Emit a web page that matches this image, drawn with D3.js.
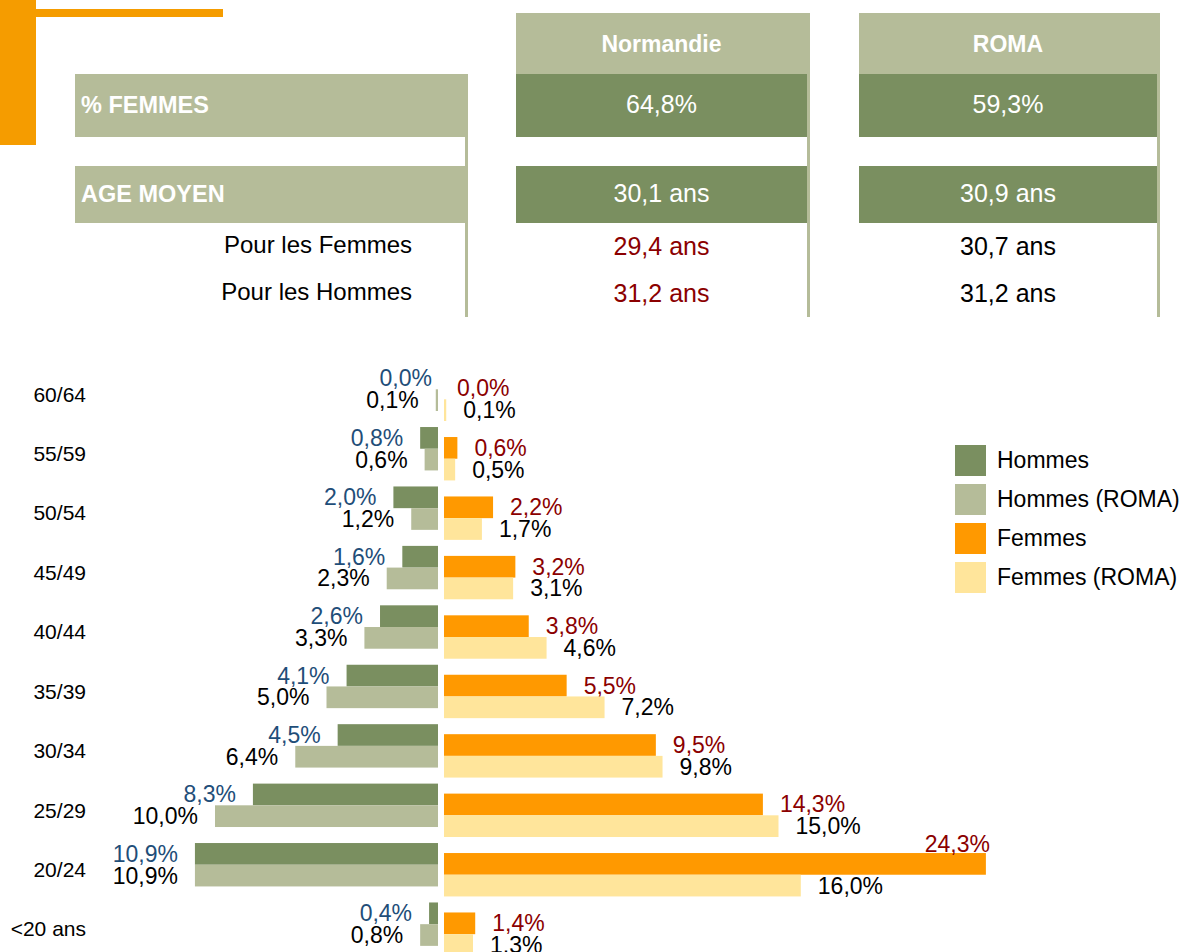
<!DOCTYPE html>
<html>
<head>
<meta charset="utf-8">
<script src="https://cdn.jsdelivr.net/npm/d3@7"></script>
<style>
  html, body { margin: 0; padding: 0; background: #fff; }
  svg { display: block; font-family: "Liberation Sans", Arial, sans-serif; }
</style>
</head>
<body>
<div id="chart"></div>
<script>
// ---------------------------------------------------------------------------
// Pyramide des âges Normandie vs ROMA
// ---------------------------------------------------------------------------
const W = 1187, H = 952;

// tableau du haut
const columns = ['Normandie', 'ROMA'];
const pctFemmes = [64.8, 59.3];
const ageMoyen = [30.1, 30.9];
const ageFemmes = [29.4, 30.7];
const ageHommes = [31.2, 31.2];

// pyramide
const categories = ['60/64', '55/59', '50/54', '45/49', '40/44', '35/39', '30/34', '25/29', '20/24', '<20 ans'];
const hommes     = [0.0, 0.8, 2.0, 1.6, 2.6, 4.1, 4.5, 8.3, 10.9, 0.4];
const hommesRoma = [0.1, 0.6, 1.2, 2.3, 3.3, 5.0, 6.4, 10.0, 10.9, 0.8];
const femmes     = [0.0, 0.6, 2.2, 3.2, 3.8, 5.5, 9.5, 14.3, 24.3, 1.4];
const femmesRoma = [0.1, 0.5, 1.7, 3.1, 4.6, 7.2, 9.8, 15.0, 16.0, 1.3];
const legendLabels = ['Hommes', 'Hommes (ROMA)', 'Femmes', 'Femmes (ROMA)'];

const C = {
  orange: '#F59C00',
  sage: '#B5BC99',
  green: '#7A8F60',
  femme: '#FF9900',
  femmeRoma: '#FFE59B',
  blue: '#1F4E79',
  red: '#8B0000'
};

const fr = d3.formatLocale({ decimal: ',', thousands: ' ', grouping: [3], currency: ['', '€'] });
const f1 = fr.format('.1f');
const pct = v => f1(v) + '%';
const ans = v => f1(v) + ' ans';

const svg = d3.select('#chart').append('svg')
  .attr('width', W)
  .attr('height', H);

// --- décor orange en haut à gauche
svg.append('rect').attr('x', 0).attr('y', 0).attr('width', 36).attr('height', 145).attr('fill', C.orange);
svg.append('rect').attr('x', 0).attr('y', 9).attr('width', 223).attr('height', 8).attr('fill', C.orange);

// --- tableau
const table = svg.append('g');

// colonne des libellés
table.append('rect').attr('x', 75).attr('y', 74).attr('width', 393).attr('height', 63).attr('fill', C.sage);
table.append('rect').attr('x', 75).attr('y', 166).attr('width', 393).attr('height', 57).attr('fill', C.sage);
table.append('rect').attr('x', 465).attr('y', 74).attr('width', 3).attr('height', 243).attr('fill', C.sage);

table.append('text').attr('x', 81).attr('y', 113)
  .attr('fill', '#fff').style('font-size', '23.5px').style('font-weight', '700').text('% FEMMES');
table.append('text').attr('x', 81).attr('y', 202)
  .attr('fill', '#fff').style('font-size', '23.5px').style('font-weight', '700').text('AGE MOYEN');
table.append('text').attr('x', 412).attr('y', 253).attr('text-anchor', 'end')
  .attr('fill', '#000').style('font-size', '24px').text('Pour les Femmes');
table.append('text').attr('x', 412).attr('y', 300).attr('text-anchor', 'end')
  .attr('fill', '#000').style('font-size', '24px').text('Pour les Hommes');

const colX = d3.scalePoint().domain(columns).range([516, 859]);
const colW = [291, 298];

columns.forEach((name, i) => {
  const x0 = colX(name);
  const w = colW[i];
  const cx = x0 + w / 2;
  const g = table.append('g');
  g.append('rect').attr('x', x0).attr('y', 13).attr('width', w + 3).attr('height', 61).attr('fill', C.sage);
  g.append('rect').attr('x', x0 + w).attr('y', 13).attr('width', 3).attr('height', 304).attr('fill', C.sage);
  g.append('rect').attr('x', x0).attr('y', 74).attr('width', w).attr('height', 63).attr('fill', C.green);
  g.append('rect').attr('x', x0).attr('y', 166).attr('width', w).attr('height', 57).attr('fill', C.green);

  g.append('text').attr('x', cx).attr('y', 52).attr('text-anchor', 'middle')
    .attr('fill', '#fff').style('font-size', '23px').style('font-weight', '700').text(name);
  g.append('text').attr('x', cx).attr('y', 113).attr('text-anchor', 'middle')
    .attr('fill', '#fff').style('font-size', '25px').text(pct(pctFemmes[i]));
  g.append('text').attr('x', cx).attr('y', 202).attr('text-anchor', 'middle')
    .attr('fill', '#fff').style('font-size', '25px').text(ans(ageMoyen[i]));

  const subCol = i === 0 ? C.red : '#000';
  g.append('text').attr('x', cx).attr('y', 255).attr('text-anchor', 'middle')
    .attr('fill', subCol).style('font-size', '25px').text(ans(ageFemmes[i]));
  g.append('text').attr('x', cx).attr('y', 302).attr('text-anchor', 'middle')
    .attr('fill', subCol).style('font-size', '25px').text(ans(ageHommes[i]));
});

// --- pyramide
const AXIS_M = 438, AXIS_F = 444;
const x = d3.scaleLinear().domain([0, 25]).range([0, 557.5]);
const y = d3.scaleBand().domain(categories).range([367.6, 367.6 + 59.43 * categories.length]);
const barH = 21.7;
const femOffset = 10;
const GAP = 17;
const RIGHT_LIMIT = 1000;

const rows = categories.map((cat, i) => ({
  cat, h: hommes[i], hr: hommesRoma[i], f: femmes[i], fr: femmesRoma[i]
}));

const pyr = svg.append('g');

// libellés des classes d'âge
pyr.selectAll('.cat').data(rows).join('text')
  .attr('class', 'cat')
  .attr('x', 86)
  .attr('y', d => y(d.cat) + 34)
  .attr('text-anchor', 'end')
  .attr('fill', '#000')
  .style('font-size', '21px')
  .text(d => d.cat);

const series = [
  { key: 'h', side: -1, dy: 0, fill: C.green, label: C.blue },
  { key: 'hr', side: -1, dy: barH, fill: C.sage, label: '#000' },
  { key: 'f', side: 1, dy: femOffset, fill: C.femme, label: C.red },
  { key: 'fr', side: 1, dy: femOffset + barH, fill: C.femmeRoma, label: '#000' }
];

// label trop long pour tenir à droite -> placé au-dessus de la barre
const overflow = v => AXIS_F + x(v) + GAP + 60 > RIGHT_LIMIT;

series.forEach(s => {
  const g = pyr.append('g');
  g.selectAll('rect').data(rows).join('rect')
    .attr('x', d => s.side < 0 ? AXIS_M - x(d[s.key]) : AXIS_F)
    .attr('y', d => y(d.cat) + s.dy)
    .attr('width', d => x(d[s.key]))
    .attr('height', barH)
    .attr('fill', s.fill);

  g.selectAll('text').data(rows).join('text')
    .attr('x', d => {
      const v = d[s.key];
      if (s.side < 0) return AXIS_M - x(v) - (v === 0 ? 6 : GAP);
      if (overflow(v)) return AXIS_F + x(v) + 4;
      return AXIS_F + x(v) + (v === 0 ? 13 : GAP);
    })
    .attr('y', d => {
      const v = d[s.key];
      const base = y(d.cat) + s.dy + barH / 2 + 8;
      if (s.side > 0 && overflow(v)) return base - barH + 2;
      return base;
    })
    .attr('text-anchor', d => (s.side < 0 || overflow(d[s.key])) ? 'end' : 'start')
    .attr('fill', s.label)
    .style('font-size', '23px')
    .text(d => pct(d[s.key]));
});

// --- légende
const legendColors = [C.green, C.sage, C.femme, C.femmeRoma];
const legend = svg.append('g').attr('transform', 'translate(955,445)');
legendLabels.forEach((name, i) => {
  const g = legend.append('g').attr('transform', `translate(0, ${i * 39})`);
  g.append('rect').attr('width', 31).attr('height', 31).attr('fill', legendColors[i]);
  g.append('text')
    .attr('x', 42)
    .attr('y', 23)
    .attr('fill', '#000')
    .style('font-size', '23px')
    .text(name);
});
</script>
</body>
</html>
